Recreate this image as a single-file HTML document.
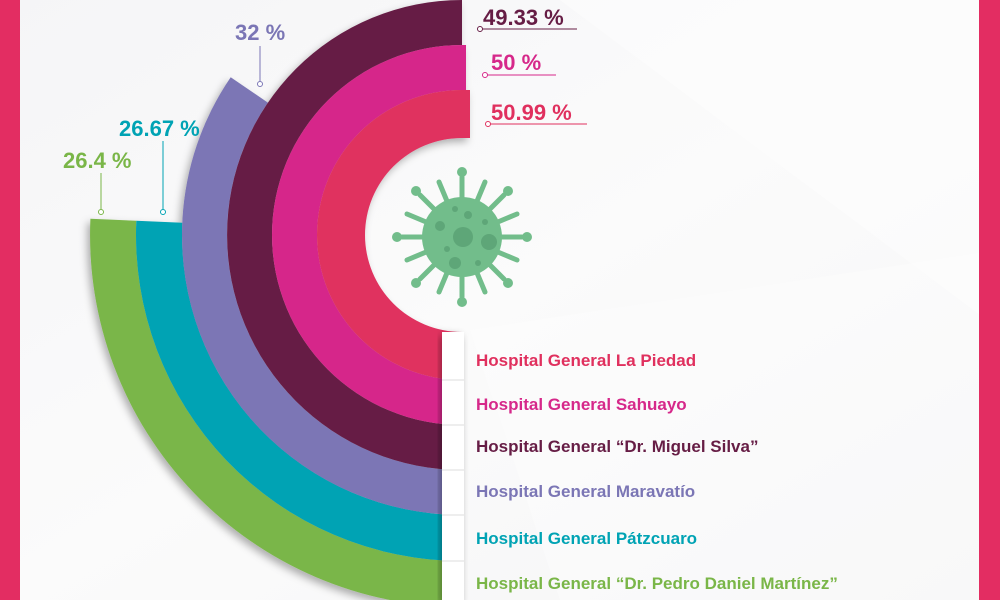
<!DOCTYPE html>
<html><head><meta charset="utf-8"><style>
html,body{margin:0;padding:0}
body{width:1000px;height:600px;overflow:hidden;font-family:"Liberation Sans",sans-serif}
</style></head><body>
<svg width="1000" height="600" viewBox="0 0 1000 600" xmlns="http://www.w3.org/2000/svg">
<defs>
<linearGradient id="bg" x1="0" y1="0" x2="1" y2="1">
<stop offset="0" stop-color="#f5f5f7"/><stop offset="0.5" stop-color="#fbfbfb"/><stop offset="1" stop-color="#f5f5f6"/>
</linearGradient>
<filter id="sh" x="-20%" y="-20%" width="140%" height="140%">
<feDropShadow dx="-3" dy="4" stdDeviation="4" flood-color="#000" flood-opacity="0.3"/>
</filter>
</defs>
<rect width="1000" height="600" fill="url(#bg)"/>
<polygon points="560,0 1000,0 1000,330" fill="#ffffff" opacity="0.4"/>
<polygon points="470,330 1000,250 1000,600 560,600" fill="#ffffff" opacity="0.3"/>
<rect x="0" y="0" width="20" height="600" fill="#e32d62"/>
<rect x="979" y="0" width="21" height="600" fill="#e32d62"/>

<g filter="url(#sh)">
<path d="M90.4 218.8 A372 372 0 0 0 462 607 L462 561 A326 326 0 0 1 136.3 220.8 Z" fill="#7ab648"/>
<path d="M136.3 220.8 A326 326 0 0 0 462 561 L462 515 A280 280 0 0 1 182.3 222.8 Z" fill="#00a3b4"/>
<path d="M230.7 77.2 A280 280 0 0 0 462 515 L462 470 A235 235 0 0 1 267.9 102.6 Z" fill="#7b76b5"/>
<path d="M462 0 A235 235 0 0 0 462 470 L462 425 A190 190 0 0 1 462 45 Z" fill="#661d45"/>
<path d="M466 45 L462 45 A190 190 0 0 0 462 425 L462 380 A145 145 0 0 1 462 90 L466 90 Z" fill="#d6288a"/>
<path d="M470 90 L462 90 A145 145 0 0 0 462 380 L462 332 A97 97 0 0 1 462 138 L470 138 Z" fill="#e0305e"/>
</g>

<g filter="url(#sh)">
<rect x="442" y="332" width="22" height="268" fill="#fff"/>
</g>
<g stroke="#ddd" stroke-width="1">
<line x1="442" y1="380" x2="464" y2="380"/><line x1="442" y1="425" x2="464" y2="425"/>
<line x1="442" y1="470" x2="464" y2="470"/><line x1="442" y1="515" x2="464" y2="515"/>
<line x1="442" y1="561" x2="464" y2="561"/>
</g>

<!-- virus -->
<g fill="#72bd8b" stroke="#72bd8b">
<g stroke-width="5" stroke-linecap="round">
<line x1="462" y1="237" x2="462" y2="177"/><line x1="462" y1="237" x2="462" y2="297"/>
<line x1="462" y1="237" x2="402" y2="237"/><line x1="462" y1="237" x2="522" y2="237"/>
<line x1="462" y1="237" x2="420" y2="195"/><line x1="462" y1="237" x2="504" y2="195"/>
<line x1="462" y1="237" x2="420" y2="279"/><line x1="462" y1="237" x2="504" y2="279"/>
<line x1="462" y1="237" x2="439" y2="182"/><line x1="462" y1="237" x2="485" y2="182"/>
<line x1="462" y1="237" x2="407" y2="214"/><line x1="462" y1="237" x2="517" y2="260"/>
<line x1="462" y1="237" x2="439" y2="292"/><line x1="462" y1="237" x2="485" y2="292"/>
<line x1="462" y1="237" x2="407" y2="260"/><line x1="462" y1="237" x2="517" y2="214"/>
</g>
<circle cx="462" cy="237" r="40" stroke="none"/>
<g stroke="none">
<circle cx="462" cy="172" r="5"/><circle cx="462" cy="302" r="5"/><circle cx="397" cy="237" r="5"/><circle cx="527" cy="237" r="5"/>
<circle cx="416" cy="191" r="5"/><circle cx="508" cy="191" r="5"/><circle cx="416" cy="283" r="5"/><circle cx="508" cy="283" r="5"/>
</g>
</g>
<g fill="#5ea678">
<circle cx="463" cy="237" r="10"/><circle cx="489" cy="242" r="8"/><circle cx="440" cy="226" r="5"/>
<circle cx="455" cy="263" r="6"/><circle cx="468" cy="215" r="4"/><circle cx="478" cy="263" r="3"/>
<circle cx="447" cy="249" r="3"/><circle cx="485" cy="222" r="3"/><circle cx="455" cy="209" r="3"/>
</g>

<!-- percentage labels -->
<g font-family="Liberation Sans, sans-serif" font-weight="bold" font-size="22">
<text x="483" y="25" fill="#661d45">49.33 %</text>
<text x="491" y="70" fill="#d6288a">50 %</text>
<text x="491" y="120" fill="#e0305e">50.99 %</text>
<text x="235" y="40" fill="#7b76b5">32 %</text>
<text x="119" y="136" fill="#00a3b4">26.67 %</text>
<text x="63" y="168" fill="#7ab648">26.4 %</text>
</g>
<g fill="none" stroke-width="1">
<line x1="481" y1="29" x2="577" y2="29" stroke="#661d45"/><circle cx="480" cy="29" r="2.5" stroke="#661d45" fill="#fff"/>
<line x1="486" y1="75" x2="556" y2="75" stroke="#d6288a"/><circle cx="485" cy="75" r="2.5" stroke="#d6288a" fill="#fff"/>
<line x1="489" y1="124" x2="587" y2="124" stroke="#e0305e"/><circle cx="488" cy="124" r="2.5" stroke="#e0305e" fill="#fff"/>
<line x1="260" y1="46" x2="260" y2="81" stroke="#7b76b5"/><circle cx="260" cy="84" r="2.5" stroke="#7b76b5" fill="#fff"/>
<line x1="163" y1="141" x2="163" y2="209" stroke="#00a3b4"/><circle cx="163" cy="212" r="2.5" stroke="#00a3b4" fill="#fff"/>
<line x1="101" y1="173" x2="101" y2="209" stroke="#7ab648"/><circle cx="101" cy="212" r="2.5" stroke="#7ab648" fill="#fff"/>
</g>

<!-- hospital labels -->
<g font-family="Liberation Sans, sans-serif" font-weight="bold" font-size="17">
<text x="476" y="366" fill="#e0305e">Hospital General La Piedad</text>
<text x="476" y="410" fill="#d6288a">Hospital General Sahuayo</text>
<text x="476" y="452" fill="#661d45">Hospital General “Dr. Miguel Silva”</text>
<text x="476" y="497" fill="#7b76b5">Hospital General Maravatío</text>
<text x="476" y="544" fill="#00a3b4">Hospital General Pátzcuaro</text>
<text x="476" y="589" fill="#7ab648">Hospital General “Dr. Pedro Daniel Martínez”</text>
</g>
</svg>
</body></html>
